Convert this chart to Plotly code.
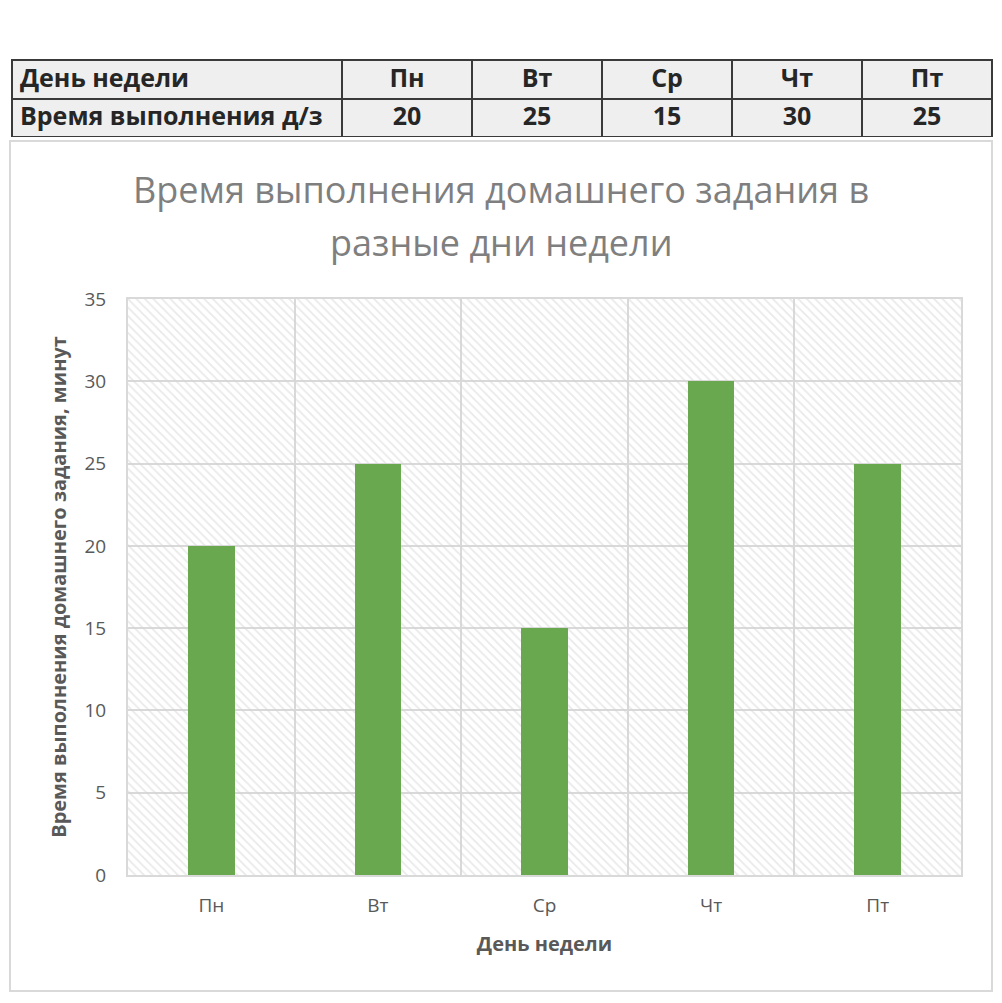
import plotly.graph_objects as go

days = ["Пн", "Вт", "Ср", "Чт", "Пт"]
minutes = [20, 25, 15, 30, 25]
row_names = ["День недели", "Время выполнения д/з"]
y_max = 35
y_step = 5

title_lines = ["Время выполнения домашнего задания в", "разные дни недели"]
x_title = "День недели"
y_title = "Время выполнения домашнего задания, минут"

# у body отступ 8px, поэтому координаты страницы сдвинуты на 8
off = 8
W, H = 986, 986
ml, mr, mt, mb = 4, 2, 0, 0
pw, ph = W - ml - mr, H - mt - mb


def px_x(x):
    return (x - off - ml) / pw


def px_y(y):
    return (H - mb - (y - off)) / ph


fig = go.Figure()

# таблица сверху
tbl_font = dict(family="Open Sans", size=25, color="#262626", weight="bold")
fig.add_trace(go.Table(
    domain=dict(x=[0, 1], y=[px_y(138), px_y(60)]),
    columnwidth=[330, 130, 130, 130, 130],
    header=dict(
        values=[row_names[0]] + days,
        align=["left"] + ["center"] * 5,
        fill_color="#efefef",
        line=dict(color="#3a3a3a", width=2),
        font=tbl_font,
        height=38.5,
    ),
    cells=dict(
        values=[[row_names[1]]] + [[str(v)] for v in minutes],
        align=["left"] + ["center"] * 5,
        fill_color="#efefef",
        line=dict(color="#3a3a3a", width=2),
        font=tbl_font,
        height=38.5,
    ),
))

# штриховка фона области построения (на нижней оси x)
fig.add_trace(go.Bar(
    x=[0.5], y=[y_max], width=[1], xaxis="x", yaxis="y",
    marker=dict(color="rgba(0,0,0,0)", line=dict(width=0),
                pattern=dict(shape="\\", fgcolor="#d4d4d4", bgcolor="rgba(0,0,0,0)",
                             size=6, solidity=0.3)),
    hoverinfo="skip", showlegend=False,
))

# сами данные на оси x2, которая рисуется поверх
fig.add_trace(go.Bar(
    x=days, y=minutes, width=0.28, xaxis="x2", yaxis="y",
    marker=dict(color="#6aa84f", line=dict(width=0)),
    showlegend=False,
))

fig.add_shape(type="rect", xref="paper", yref="paper",
              x0=px_x(10), x1=px_x(992), y0=px_y(991), y1=px_y(141),
              line=dict(color="#d9d9d9", width=2), layer="below")

for txt, yy in zip(title_lines, [190, 242]):
    fig.add_annotation(text=txt, xref="paper", yref="paper", x=px_x(501), y=px_y(yy),
                       xanchor="center", yanchor="middle", showarrow=False,
                       font=dict(size=36, color="#7f7f7f"))

dom_x = [px_x(128), px_x(961)]
fig.update_layout(
    width=W, height=H,
    margin=dict(l=ml, r=mr, t=mt, b=mb, autoexpand=False),
    paper_bgcolor="white", plot_bgcolor="white",
    font=dict(family="Open Sans", color="#595959"),
    xaxis=dict(domain=dom_x, range=[0, 1], visible=False, fixedrange=True,
               automargin=False),
    xaxis2=dict(domain=dom_x, overlaying="x", anchor="y", side="bottom",
                tickson="boundaries", automargin=False,
                showgrid=True, gridcolor="#d9d9d9", gridwidth=2,
                ticks="", tickfont=dict(size=19), ticklabelstandoff=12,
                showline=True, linecolor="#d9d9d9", linewidth=2, mirror=True,
                title=dict(text=x_title, font=dict(size=20, weight="bold"), standoff=20)),
    yaxis=dict(domain=[px_y(875), px_y(299)], range=[0, y_max], dtick=y_step,
               automargin=False,
               showgrid=True, gridcolor="#d9d9d9", gridwidth=2,
               zeroline=False, tickfont=dict(size=19), ticks="", ticklabelstandoff=16,
               showline=True, linecolor="#d9d9d9", linewidth=2, mirror=True,
               title=dict(text=y_title, font=dict(size=20, weight="bold"), standoff=12)),
    bargap=0,
)

fig.write_html("out.html")
